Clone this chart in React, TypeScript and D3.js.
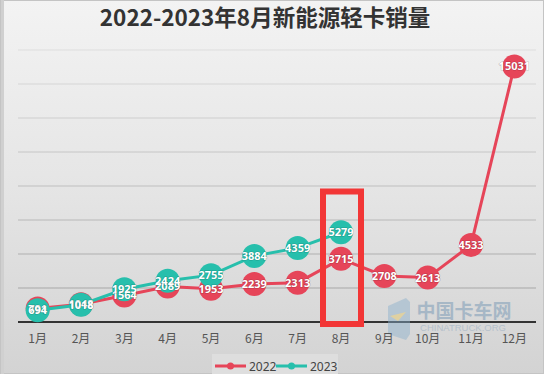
import React from "react";
import * as d3 from "d3";

const months = ["1月", "2月", "3月", "4月", "5月", "6月", "7月", "8月", "9月", "10月", "11月", "12月"];
const series2022 = [791, 1048, 1564, 2089, 1953, 2239, 2313, 3715, 2708, 2613, 4533, 15031];
const series2023 = [694, 1018, 1925, 2424, 2755, 3884, 4359, 5279];
const yTicks = [2000, 4000, 6000, 8000, 10000, 12000, 14000, 16000];
const seriesNames = ["2022", "2023"];
const title = "2022-2023年8月新能源轻卡销量";

const W = 544;
const H = 374;
const RED = "#e64559";
const TEAL = "#27bfac";

export default function App() {
  const x = d3.scaleBand<string>().domain(months).range([16, 536]).padding(0);
  const y = d3.scaleLinear().domain([0, 16000]).range([322, 50]);
  const cx = (i: number) => (x(months[i]) as number) + x.bandwidth() / 2;
  const line = d3
    .line<number>()
    .x((_, i) => cx(i))
    .y((d) => y(d));
  const gridColor = d3.scaleLinear<string>().domain([2000, 16000]).range(["#a8a8a8", "#dddddd"]);
  const font = "'Noto Sans', 'Noto Sans CJK SC', sans-serif";
  const series = [
    { name: seriesNames[0], data: series2022, color: RED },
    { name: seriesNames[1], data: series2023, color: TEAL },
  ];
  const hi = months.indexOf("8月");
  return (
    <svg width={W} height={H} style={{ position: "absolute", left: 0, top: 0 }}>
      <defs>
        <linearGradient id="bg" x1="0" y1="0" x2="0" y2="1">
          <stop offset="0" stopColor="#f3f3f3" />
          <stop offset="0.5" stopColor="#e5e5e5" />
          <stop offset="1" stopColor="#d3d3d3" />
        </linearGradient>
      </defs>
      <rect x={0} y={0} width={W} height={H} fill="url(#bg)" />
      <rect x={0.5} y={0.5} width={W - 1} height={H - 1} fill="none" stroke="#c4c4c4" />
      <rect x={1} y={0} width={3} height={H} fill="#d0d0d0" />
      <text x={265} y={26} textAnchor="middle" fontFamily="'Noto Sans CJK SC', sans-serif" fontWeight="bold" fontSize={22.5} fill="#333">
        {title}
      </text>
      {yTicks.map((t) => (
        <line key={t} x1={18} x2={536} y1={y(t)} y2={y(t)} stroke={gridColor(t)} strokeWidth={1.2} />
      ))}
      <line x1={18} x2={536} y1={y(0)} y2={y(0)} stroke="#333" strokeWidth={2} />
      <g opacity={0.45}>
        <path d="M388,306 l18,-8 l4,4 l0,32 l-4,6 l-18,-6 z" fill="#8ab0cc" />
        <path d="M390,316 l16,-4 l-8,9 z" fill="#e8c860" />
        <text x={464} y={318} textAnchor="middle" fontFamily="'Noto Sans CJK SC', serif" fontSize={19} fontWeight="bold" fill="#6a8fb0">
          中国卡车网
        </text>
        <text x={463} y={331} textAnchor="middle" fontFamily="Arial, 'Liberation Sans', sans-serif" fontSize={9.5} fill="#8aa4bc">
          CHINATRUCK.ORG
        </text>
      </g>
      {months.map((m, i) => (
        <text key={m} x={cx(i)} y={343} textAnchor="middle" fontFamily="'Noto Sans CJK SC', sans-serif" fontSize={12} fill="#555">
          {m}
        </text>
      ))}
      {series.map((s) => (
        <g key={s.name}>
          <path d={line(s.data) || ""} fill="none" stroke={s.color} strokeWidth={3} />
          {s.data.map((v, i) => (
            <circle key={i} cx={cx(i)} cy={y(v)} r={12} fill={s.color} />
          ))}
        </g>
      ))}
      {series.map((s) =>
        s.data.map((v, i) => (
          <text
            key={s.name + i}
            x={cx(i)}
            y={y(v) + 4}
            textAnchor="middle"
            fontFamily={font}
            fontWeight="bold"
            fontSize={11}
            fill="#fff"
            stroke="rgba(0,0,0,0.22)"
            strokeWidth={1.2}
            style={{ paintOrder: "stroke" }}
          >
            {v}
          </text>
        ))
      )}
      <rect x={cx(hi) - 18} y={191.5} width={38} height={132.5} fill="none" stroke="#f23636" strokeWidth={6} />
      <g>
        <rect x={212} y={354} width={126} height={22} fill="#dedede" />
        {series.map((s, k) => {
          const lx = 215 + k * 61;
          return (
            <g key={s.name}>
              <line x1={lx} x2={lx + 31} y1={366} y2={366} stroke={s.color} strokeWidth={3} />
              <circle cx={lx + 15.5} cy={366} r={3.5} fill={s.color} />
              <text x={lx + 34} y={370.5} fontFamily={font} fontSize={12} fill="#444">
                {s.name}
              </text>
            </g>
          );
        })}
      </g>
    </svg>
  );
}
